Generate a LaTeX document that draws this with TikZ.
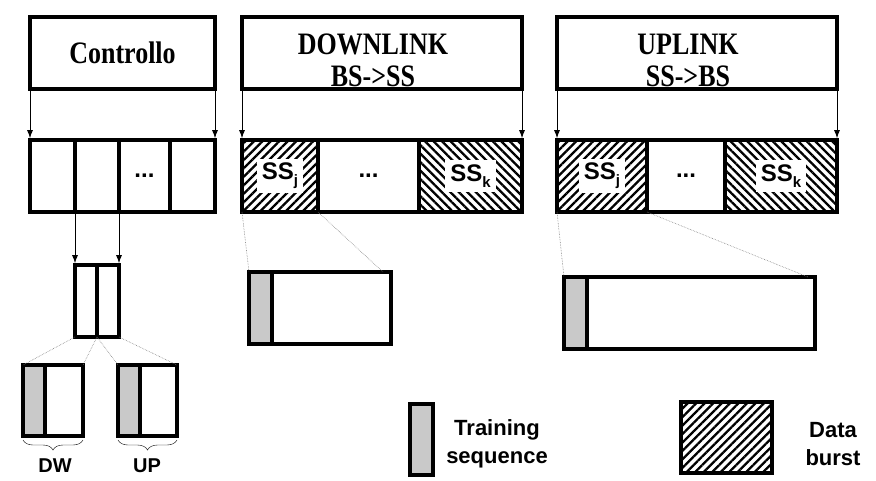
\documentclass[tikz,border=0pt]{standalone}
\usepackage{fontspec}
\setmainfont{Liberation Serif}
\setsansfont{Liberation Sans}
\usepackage{graphicx}
\usetikzlibrary{positioning,arrows.meta,patterns.meta,decorations.pathreplacing}

\newcommand\tallbf[1]{\scalebox{1}[1.2]{\bfseries #1}}
\newcommand\lowidx[1]{\raisebox{-0.5ex}{\fontsize{15}{15}\selectfont #1}}

\tikzset{
  frame/.style={draw,line width=3.6pt,inner sep=0pt,outer sep=0pt,minimum height=72pt},
  head/.style={frame,font=\fontsize{26}{32}\selectfont,align=center,anchor=north west},
  cell/.style={frame,font=\sffamily\bfseries\fontsize{24}{24}\selectfont},
  tseq/.style={frame,fill=black!21},
  burstA/.style={cell,pattern={Lines[angle=45,distance=6pt,line width=2.3pt]}},
  burstB/.style={cell,pattern={Lines[angle=-45,distance=6pt,line width=2.3pt]}},
  sslabel/.style={fill=white,inner xsep=5pt,inner ysep=4pt,font=\sffamily\bfseries\fontsize{24}{24}\selectfont},
  headtext/.style={font=\fontsize{26}{32}\selectfont,align=center},
  link/.style={->,line width=0.9pt,shorten >=1.8pt},
  zoomline/.style={gray,line width=0.6pt,densely dotted},
  legend/.style={font=\sffamily\bfseries\fontsize{22}{28}\selectfont,align=center}
}

\begin{document}
\begin{tikzpicture}[x=1pt,y=-1pt,>={Latex[length=8pt,width=6pt]}]
\useasboundingbox (0,0) rectangle (876,480);

% headers
\node[head,minimum width=185pt] (ctrl) at (30,17) {\tallbf{Controllo}};
\node[head,minimum width=280pt] (dlhead) at (242,17) {};
\node[head,minimum width=280pt] (ulhead) at (557,17) {};
\node[headtext] (dltext) at ([xshift=-9pt,yshift=-7pt]dlhead.center) {\tallbf{DOWNLINK}\\\tallbf{BS->SS}};
\node[headtext] (ultext) at ([xshift=-9pt,yshift=-7pt]ulhead.center) {\tallbf{UPLINK}\\\tallbf{SS->BS}};

% control frame
\node[cell,minimum width=45pt,anchor=north west] (c1) at (30,140) {};
\node[cell,minimum width=44pt,right=0pt of c1] (c2) {};
\node[cell,minimum width=51pt,right=0pt of c2] (c3) {...};
\node[cell,minimum width=45pt,right=0pt of c3] (c4) {};

% downlink frame
\node[burstA,minimum width=76pt,anchor=north west] (dl1) at (242,140) {};
\node[cell,minimum width=101pt,right=0pt of dl1] (dl2) {...};
\node[burstB,minimum width=103pt,right=0pt of dl2] (dl3) {};
\node[sslabel] (dlssj) at (dl1) {SS\lowidx{j}};
\node[sslabel] (dlssk) at (dl3) {SS\lowidx{k}};

% uplink frame
\node[burstA,minimum width=90pt,anchor=north west] (ul1) at (557,140) {};
\node[cell,minimum width=78pt,right=0pt of ul1] (ul2) {...};
\node[burstB,minimum width=112pt,right=0pt of ul2] (ul3) {};
\node[sslabel] (ulssj) at (ul1) {SS\lowidx{j}};
\node[sslabel] (ulssk) at (ul3) {SS\lowidx{k}};

\draw[link] (ctrl.south west) -- (c1.north west);
\draw[link] (ctrl.south east) -- (c4.north east);
\draw[link] (dlhead.south west) -- (dl1.north west);
\draw[link] (dlhead.south east) -- (dl3.north east);
\draw[link] (ulhead.south west) -- (ul1.north west);
\draw[link] (ulhead.south east) -- (ul3.north east);

% control slot and its DW / UP parts
\node[frame,minimum width=22pt,anchor=north west] (sm1) at (75,265) {};
\node[frame,minimum width=22pt,right=0pt of sm1] (sm2) {};
\draw[link] (c1.south east) -- (sm1.north west);
\draw[link] (c2.south east) -- (sm2.north east);

\node[tseq,minimum width=22pt,minimum height=71pt,anchor=north west] (dwt) at (23,365) {};
\node[frame,minimum width=38pt,minimum height=71pt,right=0pt of dwt] (dwd) {};
\node[tseq,minimum width=22pt,minimum height=71pt,anchor=north west] (upt) at (118,365) {};
\node[frame,minimum width=37pt,minimum height=71pt,right=0pt of upt] (upd) {};

\draw[zoomline] (sm1.south west) -- (dwt.north west);
\draw[zoomline] (sm1.south east) -- (dwd.north east);
\draw[zoomline] (sm1.south east) -- (upt.north west);
\draw[zoomline] (sm2.south east) -- (upd.north east);

\draw[decorate,decoration={brace,mirror,amplitude=10pt}] ([yshift=-4pt]dwt.south west) -- ([yshift=-4pt]dwd.south east);
\draw[decorate,decoration={brace,mirror,amplitude=10pt}] ([yshift=-4pt]upt.south west) -- ([yshift=-4pt]upd.south east);
\node[legend,font=\sffamily\bfseries\fontsize{20}{20}\selectfont] (dwlab) at (55,466) {DW};
\node[legend,font=\sffamily\bfseries\fontsize{20}{20}\selectfont] (uplab) at (147,466) {UP};

% zoomed bursts
\node[tseq,minimum width=23pt,anchor=north west] (dlt) at (249,272) {};
\node[frame,minimum width=119pt,right=0pt of dlt] (dld) {};
\draw[zoomline] (dl1.south west) -- (dlt.north west);
\draw[zoomline] (dl1.south east) -- ([xshift=-8pt]dld.north east);

\node[tseq,minimum width=23pt,anchor=north west] (ult) at (564,277) {};
\node[frame,minimum width=228pt,right=0pt of ult] (uld) {};
\draw[zoomline] (ul1.south west) -- (ult.north west);
\draw[zoomline] (ul1.south east) -- ([xshift=-7pt]uld.north east);

% legend
\node[tseq,minimum width=23pt,minimum height=71pt,anchor=north west] (legt) at (410,404) {};
\node[legend] (legttext) at (497,444) {Training\\sequence};
\node[burstA,minimum width=91pt,minimum height=71pt,anchor=north west] (legb) at (681,402) {};
\node[legend] (legbtext) at (833,444) {Data\\burst};
\end{tikzpicture}
\end{document}
